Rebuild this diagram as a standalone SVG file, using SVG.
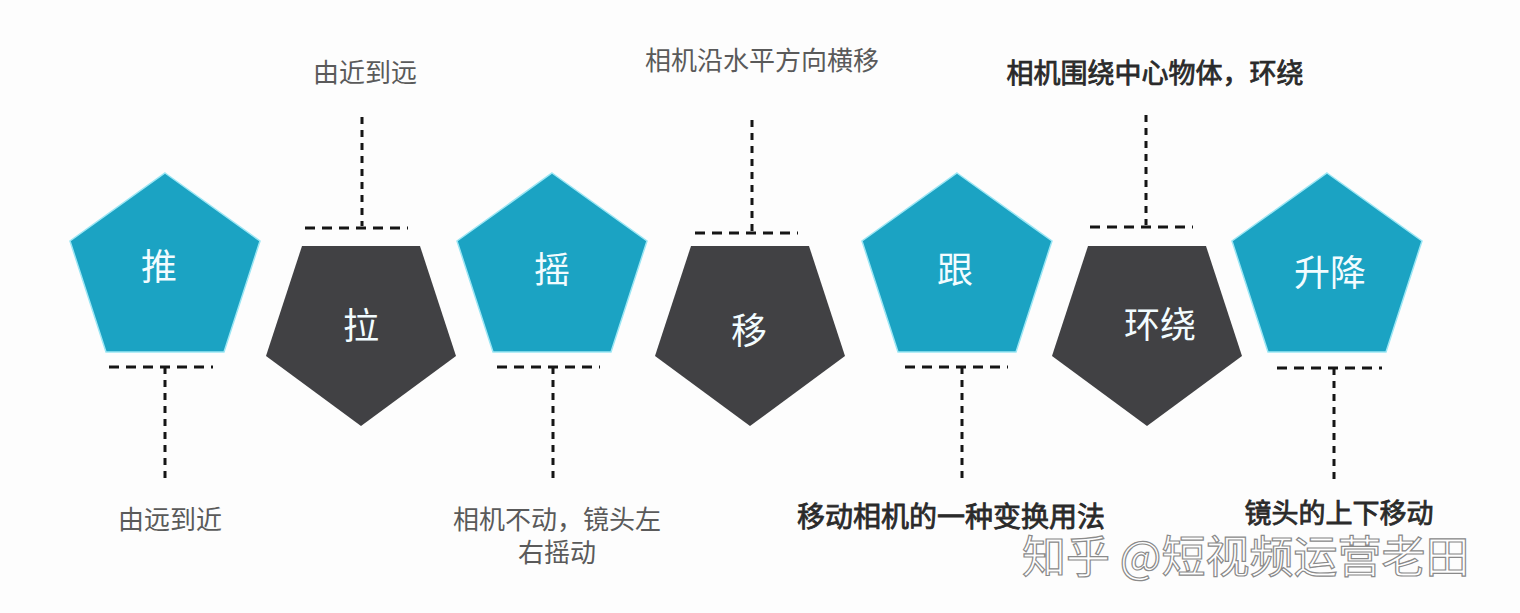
<svg xmlns="http://www.w3.org/2000/svg" width="1520" height="613" viewBox="0 0 1520 613">
  <style>
    .teal { fill: #1ba3c3; stroke: #9be6f4; stroke-width: 1.5; }
    .dark { fill: #414144; }
    .nodetext { font-family: "Noto Sans CJK SC", "Noto Sans", sans-serif; font-size: 36px; fill: #f2fcff; text-anchor: middle; dominant-baseline: central; }
    .label { font-family: "Noto Sans CJK SC", "Noto Sans", sans-serif; font-size: 26px; fill: #5a5a5a; text-anchor: middle; dominant-baseline: central; }
    .label-dark { font-family: "Noto Sans CJK SC", "Noto Sans", sans-serif; font-size: 27px; fill: #2a2a2a; stroke: #2a2a2a; stroke-width: 0.8; text-anchor: middle; dominant-baseline: central; }
    .dh { stroke: #151515; stroke-width: 3; stroke-dasharray: 10 7; fill: none; }
    .dv { stroke: #151515; stroke-width: 3; stroke-dasharray: 7 6; fill: none; }
    .wm { font-family: "Noto Sans CJK SC", "Noto Sans", sans-serif; font-size: 44px; fill: #ffffff; stroke: #8a8a8a; stroke-width: 1.2; dominant-baseline: central; }
  </style>
  <rect x="0" y="0" width="1520" height="613" fill="#fdfdfd"/>

  <g id="connectors">
    <line class="dh" x1="109" y1="367" x2="213" y2="367"/>
    <line class="dv" x1="165" y1="367" x2="165" y2="481"/>
    <line class="dh" x1="305" y1="228" x2="408" y2="228"/>
    <line class="dv" x1="362" y1="117" x2="362" y2="226"/>
    <line class="dh" x1="497" y1="367" x2="600" y2="367"/>
    <line class="dv" x1="553" y1="367" x2="553" y2="481"/>
    <line class="dh" x1="695" y1="233" x2="798" y2="233"/>
    <line class="dv" x1="752" y1="120" x2="752" y2="231"/>
    <line class="dh" x1="905" y1="367" x2="1008" y2="367"/>
    <line class="dv" x1="962" y1="367" x2="962" y2="482"/>
    <line class="dh" x1="1090" y1="227" x2="1193" y2="227"/>
    <line class="dv" x1="1146" y1="115" x2="1146" y2="225"/>
    <line class="dh" x1="1277" y1="368" x2="1382" y2="368"/>
    <line class="dv" x1="1334" y1="368" x2="1334" y2="482"/>
  </g>

  <g id="node-tui">
    <polygon class="teal" points="165,173 260,241 224,352 106,352 70,241"/>
    <text class="nodetext" x="159" y="264">推</text>
    <text class="label" x="170" y="517">由远到近</text>
  </g>
  <g id="node-la">
    <polygon class="dark" points="302,246 420,246 456,356 361,426 266,356"/>
    <text class="nodetext" x="361" y="323">拉</text>
    <text class="label" x="365" y="70">由近到远</text>
  </g>
  <g id="node-yao">
    <polygon class="teal" points="552,173 647,241 611,352 493,352 457,241"/>
    <text class="nodetext" x="552" y="267">摇</text>
    <text class="label" x="557" y="517">相机不动，镜头左</text>
    <text class="label" x="557" y="550">右摇动</text>
  </g>
  <g id="node-yi">
    <polygon class="dark" points="691,246 809,246 845,356 750,426 655,356"/>
    <text class="nodetext" x="749" y="328">移</text>
    <text class="label" x="762" y="58">相机沿水平方向横移</text>
  </g>
  <g id="node-gen">
    <polygon class="teal" points="957,173 1052,241 1016,352 898,352 862,241"/>
    <text class="nodetext" x="955" y="267">跟</text>
    <text class="label-dark" x="951" y="515" style="font-size:28px">移动相机的一种变换用法</text>
  </g>
  <g id="node-huanrao">
    <polygon class="dark" points="1088,246 1206,246 1242,356 1147,426 1052,356"/>
    <text class="nodetext" x="1160" y="322">环绕</text>
    <text class="label-dark" x="1155" y="71">相机围绕中心物体，环绕</text>
  </g>
  <g id="node-shengjiang">
    <polygon class="teal" points="1327,173 1422,241 1386,352 1268,352 1232,241"/>
    <text class="nodetext" x="1330" y="270">升降</text>
    <text class="label-dark" x="1339" y="511">镜头的上下移动</text>
  </g>

  <text class="wm" x="1022" y="554">知乎 @短视频运营老田</text>
</svg>
